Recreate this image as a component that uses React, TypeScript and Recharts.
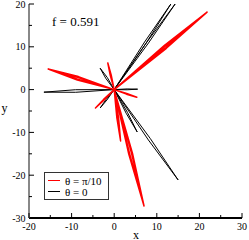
import React from 'react';
import { LineChart, Line, XAxis, YAxis, Legend } from 'recharts';

const xTicks = [-20, -15, -10, -5, 0, 5, 10, 15, 20, 25, 30];
const yTicks = [-30, -25, -20, -15, -10, -5, 0, 5, 10, 15, 20];
const xDomain: [number, number] = [-20, 30];
const yDomain: [number, number] = [-30, 20];

const seriesNames = ['θ = π/10', 'θ = 0'];
const seriesColors = ['#ff0000', '#000000'];
const annotation = 'f = 0.591';

// theta = pi/10 petals (filled, red): tip coordinates and half width
const redTipX = [21.8, -15.5, 7.0, -1.5, -4.4, 5.3, 1.5];
const redTipY = [18.1, 4.8, -27.2, 6.2, -4.3, -1.8, -12.0];
const redHalfWidth = [0.4, 0.42, 0.45, 0.12, 0.1, 0.08, 0.2];

// theta = 0 petals (outlined, black)
const blackTipX = [13.3, 14.3, -16.5, 15.0, 5.4, 5.5, -3.3, -3.3];
const blackTipY = [20.0, 20.0, -0.6, -21.1, -9.9, 0.1, 5.0, -4.3];
const blackHalfWidth = [0.22, 0.22, 0.3, 0.28, 0.18, 0.1, 0.2, 0.12];

const midFraction = 0.55;

type Pt = { x: number; y: number };

function buildOutline(tx: number[], ty: number[], hw: number[], filled: boolean): Pt[] {
  const pts: Pt[] = [{ x: 0, y: 0 }];
  tx.forEach((x, i) => {
    const y = ty[i];
    const len = Math.hypot(x, y);
    const nx = (-y / len) * hw[i];
    const ny = (x / len) * hw[i];
    const mx = x * midFraction;
    const my = y * midFraction;
    pts.push({ x: mx + nx, y: my + ny }, { x, y });
    if (filled) {
      pts.push({ x: mx + nx / 2, y: my + ny / 2 }, { x: 0, y: 0 }, { x: mx - nx / 2, y: my - ny / 2 }, { x, y });
    }
    pts.push({ x: mx - nx, y: my - ny }, { x: 0, y: 0 });
  });
  return pts;
}

const redData = buildOutline(redTipX, redTipY, redHalfWidth, true);
const blackData = buildOutline(blackTipX, blackTipY, blackHalfWidth, false);

const FONT = '"Liberation Serif", "Times New Roman", serif';

const BottomTick = (p: any) => {
  const v = p.payload.value;
  const major = v % 10 === 0;
  return (
    <g>
      <line x1={p.x} x2={p.x} y1={p.y} y2={p.y - (major ? 5 : 3)} stroke="#000" strokeWidth={1} />
      {major && (
        <text x={p.x} y={p.y + 8.5} textAnchor="middle" dominantBaseline="central" fontSize={10} fontFamily={FONT} fill="#000">
          {v}
        </text>
      )}
    </g>
  );
};

const TopTick = (p: any) => {
  const v = p.payload.value;
  const major = v % 10 === 0;
  return <line x1={p.x} x2={p.x} y1={p.y} y2={p.y + (major ? 5 : 3)} stroke="#000" strokeWidth={1} />;
};

const LeftTick = (p: any) => {
  const v = p.payload.value;
  const major = v % 10 === 0;
  return (
    <g>
      <line x1={p.x} x2={p.x + (major ? 5 : 3)} y1={p.y} y2={p.y} stroke="#000" strokeWidth={1} />
      {major && (
        <text x={p.x - 3.5} y={p.y} textAnchor="end" dominantBaseline="central" fontSize={10} fontFamily={FONT} fill="#000">
          {v}
        </text>
      )}
    </g>
  );
};

const RightTick = (p: any) => {
  const v = p.payload.value;
  const major = v % 10 === 0;
  return <line x1={p.x} x2={p.x - (major ? 5 : 3)} y1={p.y} y2={p.y} stroke="#000" strokeWidth={1} />;
};

const XLabel = (props: any) => {
  const vb = props.viewBox;
  return (
    <text x={vb.x + vb.width / 2 + 0.5} y={vb.y + 20.5} textAnchor="middle" fontSize={12} fontFamily={FONT} fill="#000">
      x
    </text>
  );
};

const YLabel = (props: any) => {
  const vb = props.viewBox;
  return (
    <text x={vb.x + 4.5} y={vb.y + vb.height / 2 + 0.5} textAnchor="middle" fontSize={12} fontFamily={FONT} fill="#000">
      y
    </text>
  );
};

const renderLegend = (props: any) => {
  const payload = props.payload || [];
  return (
    <svg width={66} height={29} style={{ display: 'block' }}>
      <rect x={0.5} y={0.5} width={64} height={27} fill="#fff" stroke="#333" strokeWidth={1} />
      {seriesNames.map((name, i) => {
        const entry = payload.find((e: any) => e.value === name);
        const color = entry ? entry.color : seriesColors[i];
        const cy = 8.5 + i * 11;
        return (
          <g key={name}>
            <line x1={4} x2={16} y1={cy} y2={cy} stroke={color} strokeWidth={1} />
            <text x={21} y={cy} dominantBaseline="central" fontSize={11} fontFamily={FONT} fill="#000">
              {name}
            </text>
          </g>
        );
      })}
    </svg>
  );
};

export default function App() {
  return (
    <div style={{ position: 'absolute', left: 0, top: 0, width: 249, height: 240, background: '#fff' }}>
      <LineChart width={249} height={240} margin={{ top: 4, right: 7, bottom: 0, left: 0 }}>
        <XAxis
          dataKey="x"
          type="number"
          domain={xDomain}
          ticks={xTicks}
          interval={0}
          allowDataOverflow
          height={22}
          tickSize={0}
          tickMargin={0}
          tickLine={false}
          axisLine={{ stroke: '#000', strokeWidth: 2 }}
          tick={BottomTick}
          label={{ content: XLabel }}
        />
        <XAxis
          xAxisId="t"
          orientation="top"
          dataKey="x"
          type="number"
          domain={xDomain}
          ticks={xTicks}
          interval={0}
          allowDataOverflow
          height={0}
          tickSize={0}
          tickMargin={0}
          tickLine={false}
          axisLine={{ stroke: '#000', strokeWidth: 1 }}
          tick={TopTick}
        />
        <YAxis
          dataKey="y"
          type="number"
          domain={yDomain}
          ticks={yTicks}
          interval={0}
          allowDataOverflow
          width={29}
          tickSize={0}
          tickMargin={0}
          tickLine={false}
          axisLine={{ stroke: '#888', strokeWidth: 2 }}
          tick={LeftTick}
          label={{ content: YLabel }}
        />
        <YAxis
          yAxisId="r"
          orientation="right"
          dataKey="y"
          type="number"
          domain={yDomain}
          ticks={yTicks}
          interval={0}
          allowDataOverflow
          width={0}
          tickSize={0}
          tickMargin={0}
          tickLine={false}
          axisLine={{ stroke: '#888', strokeWidth: 2 }}
          tick={RightTick}
        />
        <Line
          name={seriesNames[1]}
          data={blackData}
          dataKey="y"
          type="linear"
          stroke={seriesColors[1]}
          strokeWidth={1}
          strokeLinejoin="round"
          dot={false}
          activeDot={false}
          isAnimationActive={false}
        />
        <Line
          name={seriesNames[0]}
          data={redData}
          dataKey="y"
          type="linear"
          stroke={seriesColors[0]}
          strokeWidth={1.5}
          strokeLinejoin="round"
          dot={false}
          activeDot={false}
          isAnimationActive={false}
        />
        <Legend
          layout="vertical"
          align="center"
          verticalAlign="middle"
          content={renderLegend}
          wrapperStyle={{ left: 44, top: 172, width: 66, height: 29 }}
        />
        <text x={52} y={26} fontSize={13} fontFamily={FONT} fill="#000">
          {annotation}
        </text>
      </LineChart>
    </div>
  );
}
